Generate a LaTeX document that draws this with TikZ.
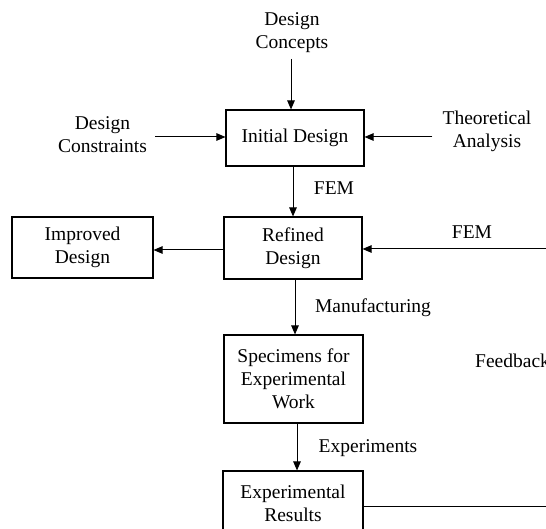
\documentclass[tikz,border=0pt]{standalone}
\usepackage{fontspec}
\setmainfont{Liberation Serif}
\usetikzlibrary{arrows.meta}
\begin{document}
\begin{tikzpicture}[x=1pt,y=-1pt,
  every node/.style={font=\fontsize{19.5}{23}\selectfont, align=center, inner sep=0pt},
  box/.style={draw, line width=1.1pt, minimum width=#1},
  arr/.style={line width=1pt, -{Triangle[length=9pt,width=7.5pt]}},
  ln/.style={line width=1pt}]
\useasboundingbox (0,0) rectangle (546,529);
\node[box=138pt, minimum height=56pt] (init) at (295,138) {Initial Design};
\node[box=138pt, minimum height=62pt] (ref) at (293,248) {Refined\\Design};
\node[box=141pt, minimum height=61pt] (imp) at (82.5,247.5) {Improved\\Design};
\node[box=139pt, minimum height=88pt] (spec) at (293.5,379) {Specimens for\\Experimental\\Work};
\node[box=140pt, minimum height=64pt] (res) at (293,503) {Experimental\\Results};
\node[anchor=south, inner sep=6pt] (conc) at (292,59) {Design\\Concepts};
\node[inner xsep=8pt] (cons) at (102.5,135) {Design\\Constraints};
\node[inner xsep=10pt] (theo) at (487,131) {Theoretical\\Analysis};
\node (fem1) at (334,188) {FEM};
\node (fem2) at (472,232) {FEM};
\node (manu) at (373,308) {Manufacturing};
\node[anchor=west] (feed) at (475,361) {Feedback};
\node (expt) at (368,448) {Experiments};
\coordinate (fbtop) at (546,249);
\coordinate (fbbot) at (546,506);
\draw[arr] (conc.south -| 291,0) -- (init.north -| 291,0);
\draw[arr] (cons.east |- 0,137) -- (init.west |- 0,137);
\draw[arr] (theo.west |- 0,137) -- (init.east |- 0,137);
\draw[arr] (init.south -| 293,0) -- (ref.north -| 293,0);
\draw[arr] (ref.west |- 0,250) -- (imp.east |- 0,250);
\draw[arr] (fbtop) -- (ref.east |- fbtop);
\draw[arr] (ref.south -| 295,0) -- (spec.north -| 295,0);
\draw[arr] (spec.south -| 297,0) -- (res.north -| 297,0);
\draw[ln] (res.east |- fbbot) -- (fbbot);
\end{tikzpicture}
\end{document}
